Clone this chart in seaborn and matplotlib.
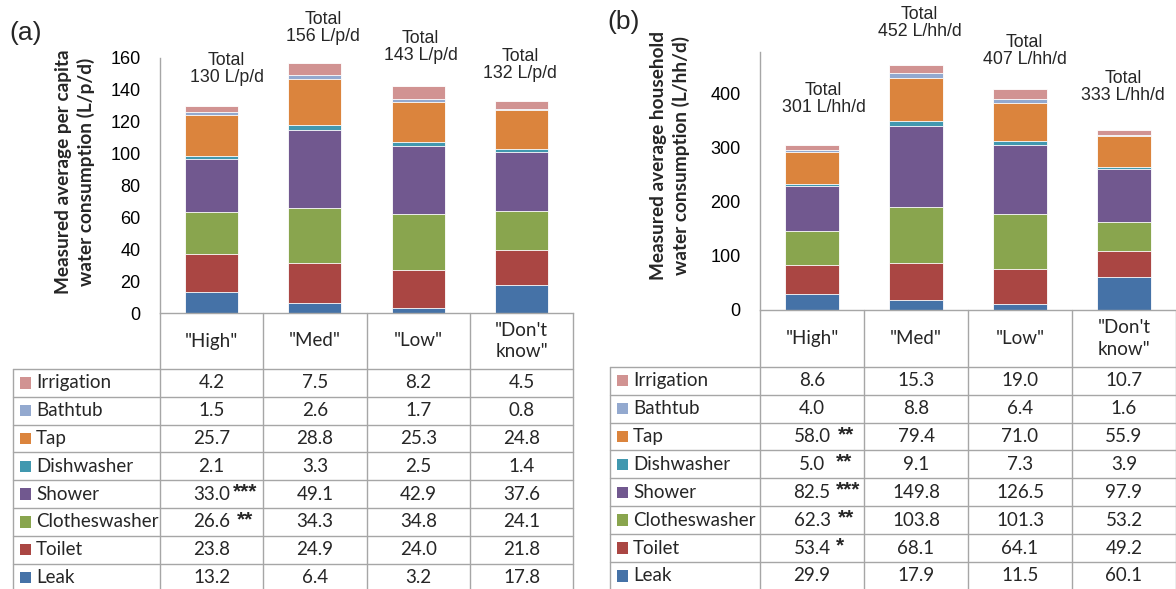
import numpy as np
import pandas as pd
import matplotlib.pyplot as plt
import matplotlib.transforms as mtransforms
from matplotlib.patches import Rectangle
from matplotlib.lines import Line2D
import seaborn as sns

sns.set_theme(style="white")
plt.rcParams['font.family'] = ['Liberation Sans', 'DejaVu Sans']

# categories (stack order, bottom -> top)
groups = ['"High"', '"Med"', '"Low"', '"Don\'t\nknow"']
end_uses = ["Leak", "Toilet", "Clotheswasher", "Shower", "Dishwasher", "Tap", "Bathtub", "Irrigation"]
colors = ["#4572A7", "#AA4643", "#89A54E", "#71588F", "#4198AF", "#DB843D", "#93A9CF", "#D19392"]

# (a) per capita, L/p/d
leak_pc = [13.2, 6.4, 3.2, 17.8]
toilet_pc = [23.8, 24.9, 24.0, 21.8]
clothes_pc = [26.6, 34.3, 34.8, 24.1]
shower_pc = [33.0, 49.1, 42.9, 37.6]
dish_pc = [2.1, 3.3, 2.5, 1.4]
tap_pc = [25.7, 28.8, 25.3, 24.8]
bath_pc = [1.5, 2.6, 1.7, 0.8]
irrig_pc = [4.2, 7.5, 8.2, 4.5]
totals_pc = [130, 156, 143, 132]
stars_pc = {"Shower": "***", "Clotheswasher": "**"}   # "High" column only

# (b) per household, L/hh/d
leak_hh = [29.9, 17.9, 11.5, 60.1]
toilet_hh = [53.4, 68.1, 64.1, 49.2]
clothes_hh = [62.3, 103.8, 101.3, 53.2]
shower_hh = [82.5, 149.8, 126.5, 97.9]
dish_hh = [5.0, 9.1, 7.3, 3.9]
tap_hh = [58.0, 79.4, 71.0, 55.9]
bath_hh = [4.0, 8.8, 6.4, 1.6]
irrig_hh = [8.6, 15.3, 19.0, 10.7]
totals_hh = [301, 452, 407, 333]
stars_hh = {"Tap": "**", "Dishwasher": "**", "Shower": "***", "Clotheswasher": "**", "Toilet": "*"}

W, H = 1176, 589
fig = plt.figure(figsize=(W / 100, H / 100), dpi=100)
GRID = "#A6A6A6"
TFONT = ['Lato', 'DejaVu Sans']
TSIZE = 13.5


def px_axes(left, right, top, bottom):
    return fig.add_axes([left / W, (H - bottom) / H, (right - left) / W, (bottom - top) / H])


def draw_panel(ax, series, totals, unit, ymax, yticks, stars, ylabel, ylab_xy,
               label_dx, label_dy, head_h, row_h, tab_left, bar_w, star_dx):
    df = pd.DataFrame(series, index=end_uses, columns=groups).T
    cum = df.cumsum(axis=1)
    # overlay cumulative bars from the top layer down
    for use, col in reversed(list(zip(end_uses, colors))):
        sns.barplot(x=list(cum.index), y=cum[use].values, color=col, width=bar_w,
                    saturation=1, edgecolor="white", linewidth=0.6, ax=ax)
    ax.set_xlim(-0.5, 3.5)
    ax.set_ylim(0, ymax)
    ax.set_yticks(yticks)
    ax.set_xticks(range(4))
    ax.set_xticklabels([])
    ax.set_xlabel("")
    ax.set_ylabel("")
    ax.tick_params(axis="y", length=0, pad=14, labelsize=13, labelcolor="black")
    ax.tick_params(axis="x", length=0)
    for s in ["top", "right"]:
        ax.spines[s].set_visible(False)
    for s in ["left", "bottom"]:
        ax.spines[s].set_color(GRID)
        ax.spines[s].set_linewidth(1)

    ax.text(ylab_xy[0], ylab_xy[1], ylabel, transform=ax.transAxes, rotation=90,
            ha="center", va="center", fontsize=13.7, fontweight="bold",
            family=TFONT, linespacing=1.3)

    stack = cum.iloc[:, -1].values
    for i, t in enumerate(totals):
        ax.annotate(f"Total\n{t} {unit}", xy=(i, stack[i]),
                    xytext=(label_dx[i] * 0.72, label_dy[i] * 0.72), textcoords="offset points",
                    ha="center", va="center", fontsize=12.8, linespacing=1.0, annotation_clip=False)

    # table under the axis
    bb = ax.get_position()
    w_px, h_px = bb.width * W, bb.height * H
    col_px = w_px / 4
    tr = mtransforms.blended_transform_factory(ax.transData, ax.transAxes)

    def yf(px):
        return -px / h_px

    def xd(px):
        return px / col_px - 0.5

    n = len(end_uses)
    bottom = head_h + n * row_h
    lkw = dict(color=GRID, lw=1, transform=tr, clip_on=False)
    for xb in [-0.5, 0.5, 1.5, 2.5, 3.5]:
        ax.add_line(Line2D([xb, xb], [0, yf(bottom)], **lkw))
    ax.add_line(Line2D([xd(tab_left), xd(tab_left)], [yf(head_h), yf(bottom)], **lkw))
    for k in range(n + 1):
        y = yf(head_h + k * row_h)
        ax.add_line(Line2D([xd(tab_left), 3.5], [y, y], **lkw))

    for i, g in enumerate(groups):
        ax.text(i, yf(head_h / 2), g, transform=tr, ha="center", va="center",
                fontsize=TSIZE, family=TFONT, linespacing=1.35)

    rows = list(reversed(end_uses))
    rcols = list(reversed(colors))
    for k, use in enumerate(rows):
        yc = yf(head_h + (k + 0.5) * row_h)
        sq = 11.5
        ax.add_patch(Rectangle((xd(tab_left + 6.5), yf(head_h + (k + 0.5) * row_h + sq / 2)),
                               sq / col_px, sq / h_px, transform=tr, facecolor=rcols[k],
                               edgecolor="none", clip_on=False))
        ax.text(xd(tab_left + 23), yc, use, transform=tr, ha="left", va="center",
                fontsize=TSIZE, family=TFONT)
        for i in range(4):
            ax.text(i, yc, f"{df.loc[groups[i], use]:.1f}", transform=tr, ha="center",
                    va="center", fontsize=TSIZE, family=TFONT)
        if use in stars:
            ax.text(xd(col_px / 2 + star_dx[use]), yf(head_h + (k + 0.5) * row_h - 2), stars[use],
                    transform=tr, ha="left", va="center", fontsize=15, fontweight="bold")


ax_a = px_axes(160, 573.3, 58, 313)
ax_b = px_axes(760, 1176, 52, 310)

series_pc = [leak_pc, toilet_pc, clothes_pc, shower_pc, dish_pc, tap_pc, bath_pc, irrig_pc]
series_hh = [leak_hh, toilet_hh, clothes_hh, shower_hh, dish_hh, tap_hh, bath_hh, irrig_hh]

draw_panel(ax_a, series_pc, totals_pc, "L/p/d", 160, np.arange(0, 161, 20), stars_pc,
           "Measured average per capita\nwater consumption (L/p/d)", (-0.206, 0.553),
           [15, 8, 2.5, -1.5], [37, 34.5, 39, 36], 56, 27.8, -147, 0.513,
           {"Shower": 21, "Clotheswasher": 25})
draw_panel(ax_b, series_hh, totals_hh, "L/hh/d", 475.6, np.arange(0, 401, 100), stars_hh,
           "Measured average household\nwater consumption (L/hh/d)", (-0.216, 0.597),
           [11.5, 3.5, 4.5, -1], [46.7, 41.2, 38.6, 43.1], 56.7, 27.9, -150, 0.51,
           {"Tap": 26, "Dishwasher": 24, "Shower": 24, "Clotheswasher": 26, "Toilet": 24})

fig.text(26 / W, 1 - 33 / H, "(a)", ha="center", va="center", fontsize=19)
fig.text(624 / W, 1 - 22 / H, "(b)", ha="center", va="center", fontsize=19)

fig.savefig("out.png", dpi=100)
